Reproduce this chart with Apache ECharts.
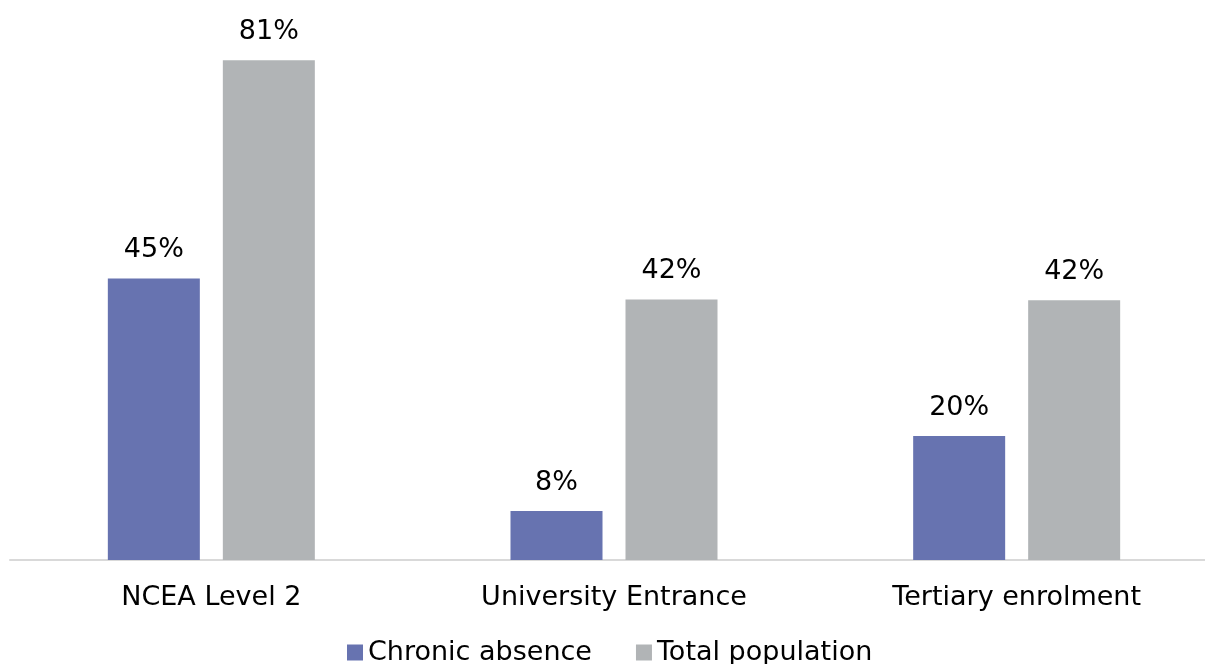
<!DOCTYPE html>
<html>
<head>
<meta charset="utf-8">
<script src="https://cdn.jsdelivr.net/npm/echarts@6/dist/echarts.min.js"></script>
<style>
html,body{margin:0;padding:0;background:#fff;}
#chart{width:1205px;height:664px;}
</style>
</head>
<body>
<div id="chart"></div>
<script>
const categories = ['NCEA Level 2', 'University Entrance', 'Tertiary enrolment'];
const seriesNames = ['Chronic absence', 'Total population'];
const chronicAbsence = [45.4, 7.9, 20.0];
const totalPopulation = [80.6, 42.0, 41.9];

const FONT = "Verdana, 'DejaVu Sans', sans-serif";
const chart = echarts.init(document.getElementById('chart'), null, {renderer: 'canvas'});
const labelCfg = {
  show: true,
  position: 'top',
  distance: 15,
  color: '#000',
  fontFamily: FONT,
  fontSize: 27,
  formatter: p => Math.round(p.value) + '%'
};
chart.setOption({
  animation: false,
  backgroundColor: '#fff',
  grid: {left: 10, width: 1208, top: 2, bottom: 104, containLabel: false, outerBoundsMode: 'none'},
  legend: {
    data: seriesNames,
    top: 639,
    left: 347,
    padding: 0,
    itemWidth: 16,
    itemHeight: 16,
    itemGap: 44,
    icon: 'rect',
    textStyle: {fontFamily: FONT, fontSize: 27, color: '#000'}
  },
  xAxis: {
    type: 'category',
    data: categories,
    axisLine: {lineStyle: {color: '#d9d9d9', width: 2}},
    axisTick: {show: false},
    axisLabel: {color: '#000', fontFamily: FONT, fontSize: 27, margin: 24}
  },
  yAxis: {
    type: 'value',
    min: 0,
    max: 90,
    show: false,
    splitLine: {show: false}
  },
  series: [
    {
      name: seriesNames[0],
      type: 'bar',
      data: chronicAbsence,
      barWidth: 92,
      barGap: '25%',
      itemStyle: {color: '#6773b0'},
      label: labelCfg
    },
    {
      name: seriesNames[1],
      type: 'bar',
      data: totalPopulation,
      barWidth: 92,
      barGap: '25%',
      itemStyle: {color: '#b1b4b6'},
      label: labelCfg
    }
  ]
});
</script>
</body>
</html>
